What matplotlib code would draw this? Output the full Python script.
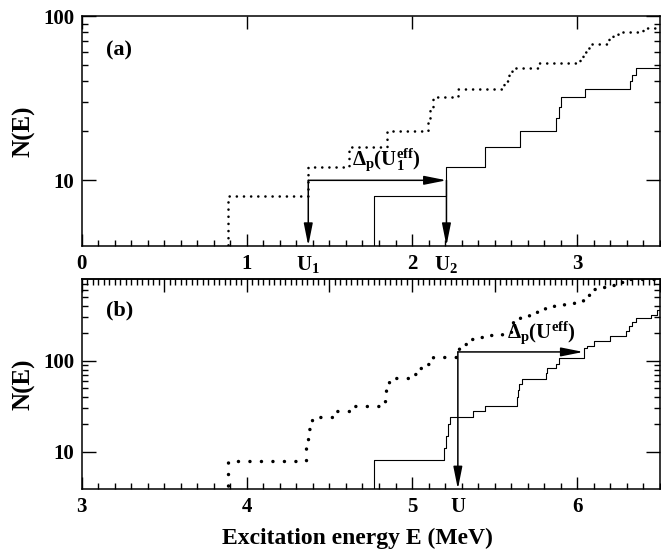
import numpy as np
import matplotlib.pyplot as plt
from matplotlib.ticker import FixedLocator, MultipleLocator, NullFormatter

plt.rcParams['font.family'] = ['Liberation Serif', 'DejaVu Serif']
plt.rcParams['font.weight'] = 'bold'
plt.rcParams['mathtext.fontset'] = 'custom'
plt.rcParams['mathtext.rm'] = 'Liberation Serif'
plt.rcParams['mathtext.bf'] = 'Liberation Serif:bold'
plt.rcParams['mathtext.it'] = 'Liberation Serif:italic'

# panel (a): cumulative level counts, steps at energy E (MeV) up to level N
a_dot_E = [0.889, 1.372, 1.618, 1.850, 2.094, 2.111, 2.128, 2.279, 2.555, 2.585,
           2.605, 2.765, 3.015, 3.032, 3.052, 3.080, 3.193, 3.213, 3.245, 3.400]
a_dot_N = [8, 12, 16, 20, 24, 28, 32, 36, 40, 44, 48, 52, 56, 60, 64, 68, 72, 76, 80, 84]
a_sol_E = [1.767, 2.208, 2.440, 2.651, 2.869, 2.887, 2.903, 3.048, 3.316, 3.332, 3.352]
a_sol_N = [8, 12, 16, 20, 24, 28, 32, 36, 40, 44, 48]
U1, U2 = 1.372, 2.208
arrow_a_N = 10

# panel (b)
b_dot_E = [3.889, 4.358, 4.368, 4.378, 4.394, 4.535, 4.642, 4.836, 4.842, 4.860,
           4.880, 5.020, 5.050, 5.090, 5.125, 5.283, 5.320, 5.365, 5.420, 5.480,
           5.545, 5.597, 5.612, 5.655, 5.705, 5.755, 5.805, 5.860, 5.920, 5.980,
           6.035, 6.070, 6.100, 6.115, 6.165, 6.225, 6.290]
b_dot_N = [8, 11, 14, 18, 24, 28, 32, 36, 48, 58, 64, 71, 84, 91, 110, 141, 153,
           174, 182, 190, 198, 242, 290, 302, 323, 357, 382, 409, 423, 440, 481,
           550, 617, 645, 673, 731, 800]
b_sol_E = [4.772, 5.195, 5.205, 5.215, 5.228, 5.370, 5.444, 5.632, 5.640, 5.648,
           5.665, 5.808, 5.818, 5.869, 5.889, 6.040, 6.060, 6.100, 6.198, 6.293,
           6.310, 6.330, 6.354, 6.444, 6.480]
b_sol_N = [8.2, 11, 15, 20, 24, 28, 32, 40, 48, 56, 63, 74, 83, 91, 108, 139, 147,
           166, 187, 211, 240, 265, 297, 315, 365]
U = 5.277
arrow_b_N = 125


def staircase(ax, E, N, xmax, **kw):
    x = [E[0]] + list(E) + [xmax]
    y = [1] + list(N) + [N[-1]]
    ax.step(x, y, where='post', **kw)


def arrow(ax, x0, y0, x1, y1):
    ax.annotate('', xy=(x1, y1), xytext=(x0, y0),
                arrowprops=dict(arrowstyle='-|>,head_length=1.35,head_width=0.27',
                                mutation_scale=10, lw=1.1, color='black',
                                shrinkA=0, shrinkB=0), annotation_clip=False)


def style(ax, xmin, xmax, ymin, ymax, yminor):
    ax.set_yscale('log')
    ax.set_xlim(xmin, xmax)
    ax.set_ylim(ymin, ymax)
    for s in ax.spines.values():
        s.set_linewidth(1.1)
    ax.yaxis.set_major_locator(FixedLocator([10, 100, 1000]))
    ax.yaxis.set_major_formatter(plt.FuncFormatter(lambda v, p: '%d' % v))
    ax.yaxis.set_minor_locator(FixedLocator(yminor))
    ax.yaxis.set_minor_formatter(NullFormatter())
    ax.xaxis.set_major_locator(MultipleLocator(1))
    ax.xaxis.set_minor_locator(MultipleLocator(0.1))
    ax.tick_params(which='both', direction='in', left=True, right=True,
                   labelsize=15, width=1.0)
    ax.tick_params(axis='y', which='major', length=10, pad=5)
    ax.tick_params(axis='x', which='major', length=9, pad=6)
    ax.tick_params(which='minor', length=4.5)
    ax.set_ylabel('N(E)', fontsize=18, fontweight='bold', labelpad=6)


fig = plt.figure(figsize=(6.61, 5.56), dpi=100)
ax1 = fig.add_axes([81.5 / 661, 1 - 245.7 / 556, (660 - 81.5) / 661, (245.7 - 16) / 556])
ax2 = fig.add_axes([81.5 / 661, 1 - 489 / 556, (660 - 81.5) / 661, (489 - 279.3) / 556])

# ---- (a)
staircase(ax1, a_dot_E, a_dot_N, 3.5, color='black', lw=1.9,
          linestyle=(0, (0.01, 2.7)), dash_capstyle='round')
staircase(ax1, a_sol_E, a_sol_N, 3.5, color='black', lw=0.8)
style(ax1, 0, 3.5, 4, 100, [20, 30, 40, 50, 60, 70, 80, 90])
ax1.tick_params(axis='x', top=True)
arrow(ax1, U1, arrow_a_N, U2, arrow_a_N)
arrow(ax1, U1, arrow_a_N, U1, 4)
arrow(ax1, U2, arrow_a_N, U2, 4)
ax1.text(1.635, 12.2, r'$\Delta_{\mathbf{p}}(\mathrm{U}^{\mathbf{eff}}_{\mathbf{1}})$',
         fontsize=15, va='baseline', ha='left')
ax1.text(0.042, 0.85, '(a)', transform=ax1.transAxes, fontsize=16,
         fontweight='bold', va='center')
for x, lab in [(U1, r'$\mathbf{U_1}$'), (U2, r'$\mathbf{U_2}$')]:
    ax1.annotate(lab, xy=(x, 0), xycoords=('data', 'axes fraction'),
                 xytext=(0, -6), textcoords='offset points',
                 ha='center', va='top', fontsize=15)

# ---- (b)
staircase(ax2, b_dot_E, b_dot_N, 6.5, color='black', lw=2.5,
          linestyle=(0, (0.01, 3.3)), dash_capstyle='round')
staircase(ax2, b_sol_E, b_sol_N, 6.5, color='black', lw=0.8)
style(ax2, 3, 6.5, 3.9, 785,
      [20, 30, 40, 50, 60, 70, 80, 90, 200, 300, 400, 500, 600, 700])
ax2.tick_params(axis='x', top=False)
sec = ax2.secondary_xaxis('top')
sec.xaxis.set_major_locator(MultipleLocator(0.5))
sec.xaxis.set_minor_locator(MultipleLocator(1 / 30))
sec.tick_params(which='both', direction='in', labeltop=False, width=1.0)
sec.tick_params(which='major', length=9)
sec.tick_params(which='minor', length=4.5)
sec.spines['top'].set_linewidth(1.1)
arrow(ax2, U, arrow_b_N, 6.036, arrow_b_N)
arrow(ax2, U, arrow_b_N, U, 3.9)
ax2.text(5.572, 179, r'$\Delta_{\mathbf{p}}(\mathrm{U}^{\mathbf{eff}})$',
         fontsize=15, va='baseline', ha='left')
ax2.text(0.042, 0.85, '(b)', transform=ax2.transAxes, fontsize=16,
         fontweight='bold', va='center')
ax2.annotate(r'$\mathbf{U}$', xy=(U, 0), xycoords=('data', 'axes fraction'),
             xytext=(0, -6), textcoords='offset points',
             ha='center', va='top', fontsize=15)
ax2.set_xlabel('Excitation energy E (MeV)', fontsize=17, fontweight='bold')
ax2.xaxis.set_label_coords(0.477, -0.185)

plt.savefig('out.png', dpi=100)
